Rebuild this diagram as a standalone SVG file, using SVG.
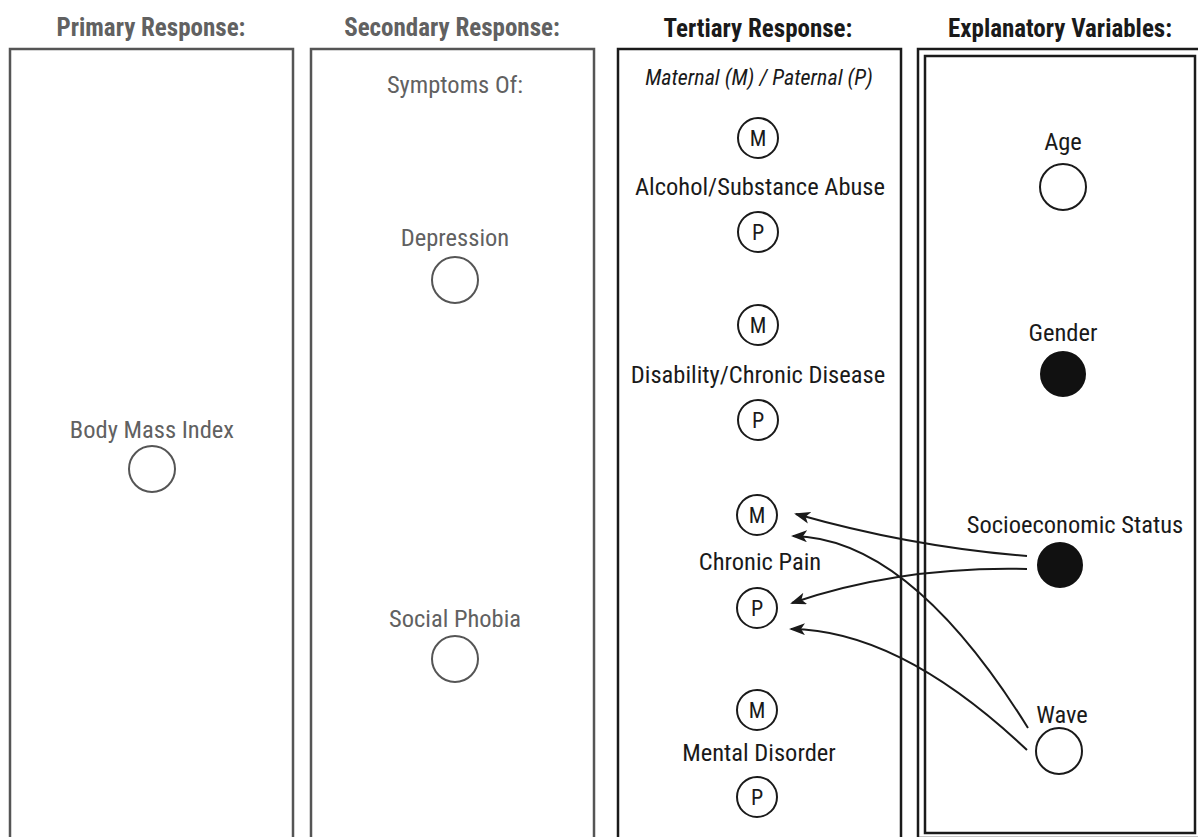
<svg xmlns="http://www.w3.org/2000/svg" width="1198" height="837" viewBox="0 0 1198 837">
  <style>
    text { font-family: "Liberation Sans Narrow", "Roboto Condensed", "Liberation Sans", sans-serif; text-anchor: middle; }
    .hdr { font-size: 25px; font-weight: bold; }
    .grey { fill: #616161; }
    .dark { fill: #1a1a1a; }
    .lbl { font-size: 24.5px; }
    .box-grey { fill: none; stroke: #555; stroke-width: 2.5; }
    .box-dark { fill: none; stroke: #1a1a1a; stroke-width: 2.5; }
    .node-grey { fill: #fff; stroke: #555; stroke-width: 2; }
    .node-dark { fill: #fff; stroke: #1a1a1a; stroke-width: 2; }
    .filled { fill: #111; stroke: #111; stroke-width: 2; }
    .small { fill: #fff; stroke: #1a1a1a; stroke-width: 2; }
    .letter { font-size: 22px; fill: #1a1a1a; }
    .edge { fill: none; stroke: #1a1a1a; stroke-width: 2; marker-end: url(#head); }
  </style>
  <defs>
    <marker id="head" markerUnits="userSpaceOnUse" markerWidth="16" markerHeight="12" refX="14" refY="6" orient="auto">
      <path d="M0,0 L16,6 L0,12 L4,6 z" fill="#1a1a1a"/>
    </marker>
  </defs>
  <rect width="1198" height="837" fill="#fff"/>

  <!-- column headers -->
  <text class="hdr grey" x="151" y="36">Primary Response:</text>
  <text class="hdr grey" x="452" y="36">Secondary Response:</text>
  <text class="hdr dark" x="758" y="37">Tertiary Response:</text>
  <text class="hdr dark" x="1060" y="37">Explanatory Variables:</text>

  <!-- column frames -->
  <rect class="box-grey" x="10" y="49" width="283" height="800"/>
  <rect class="box-grey" x="311" y="49" width="283" height="800"/>
  <rect class="box-dark" x="618" y="49" width="283" height="800"/>
  <rect class="box-dark" x="918" y="49" width="290" height="789"/>
  <rect class="box-dark" x="925" y="56" width="270" height="777" stroke-width="2"/>

  <!-- primary response -->
  <g id="bmi">
    <text class="lbl grey" x="152" y="438">Body Mass Index</text>
    <circle class="node-grey" cx="152" cy="469" r="23"/>
  </g>

  <!-- secondary response -->
  <text class="lbl grey" x="455" y="93">Symptoms Of:</text>
  <g id="depression">
    <text class="lbl grey" x="455" y="246">Depression</text>
    <circle class="node-grey" cx="455" cy="280" r="23"/>
  </g>
  <g id="social-phobia">
    <text class="lbl grey" x="455" y="627">Social Phobia</text>
    <circle class="node-grey" cx="455" cy="659" r="23"/>
  </g>

  <!-- tertiary response -->
  <text class="dark" x="759" y="85" font-size="22" font-style="italic">Maternal (M) / Paternal (P)</text>
  <g id="alcohol">
    <circle class="small" cx="758" cy="138" r="20"/>
    <text class="letter" x="758" y="146">M</text>
    <text class="lbl dark" x="760" y="195">Alcohol/Substance Abuse</text>
    <circle class="small" cx="758" cy="232" r="20"/>
    <text class="letter" x="758" y="240">P</text>
  </g>
  <g id="disability">
    <circle class="small" cx="758" cy="325" r="20"/>
    <text class="letter" x="758" y="333">M</text>
    <text class="lbl dark" x="758" y="383">Disability/Chronic Disease</text>
    <circle class="small" cx="758" cy="420" r="20"/>
    <text class="letter" x="758" y="428">P</text>
  </g>
  <g id="chronic-pain">
    <circle class="small" cx="757" cy="515" r="20"/>
    <text class="letter" x="757" y="523">M</text>
    <text class="lbl dark" x="760" y="570">Chronic Pain</text>
    <circle class="small" cx="757" cy="608" r="20"/>
    <text class="letter" x="757" y="616">P</text>
  </g>
  <g id="mental-disorder">
    <circle class="small" cx="757" cy="710" r="20"/>
    <text class="letter" x="757" y="718">M</text>
    <text class="lbl dark" x="759" y="761">Mental Disorder</text>
    <circle class="small" cx="757" cy="797" r="20"/>
    <text class="letter" x="757" y="805">P</text>
  </g>

  <!-- explanatory variables -->
  <g id="age">
    <text class="lbl dark" x="1063" y="150">Age</text>
    <circle class="node-dark" cx="1063" cy="187" r="23"/>
  </g>
  <g id="gender">
    <text class="lbl dark" x="1063" y="341">Gender</text>
    <circle class="filled" cx="1063" cy="374" r="22"/>
  </g>
  <g id="ses">
    <text class="lbl dark" x="1075" y="533">Socioeconomic Status</text>
    <circle class="filled" cx="1060" cy="565" r="22"/>
  </g>
  <g id="wave">
    <text class="lbl dark" x="1062" y="723">Wave</text>
    <circle class="node-dark" cx="1059" cy="751" r="23"/>
  </g>

  <!-- connectors -->
  <g id="connectors">
    <path class="edge" d="M1027,556 Q912,547 796,514"/>
    <path class="edge" d="M1027,569 Q900,566 792,603"/>
    <path class="edge" d="M1028,728 Q910,538 793,536"/>
    <path class="edge" d="M1027,750 Q900,630 791,629"/>
  </g>
</svg>
